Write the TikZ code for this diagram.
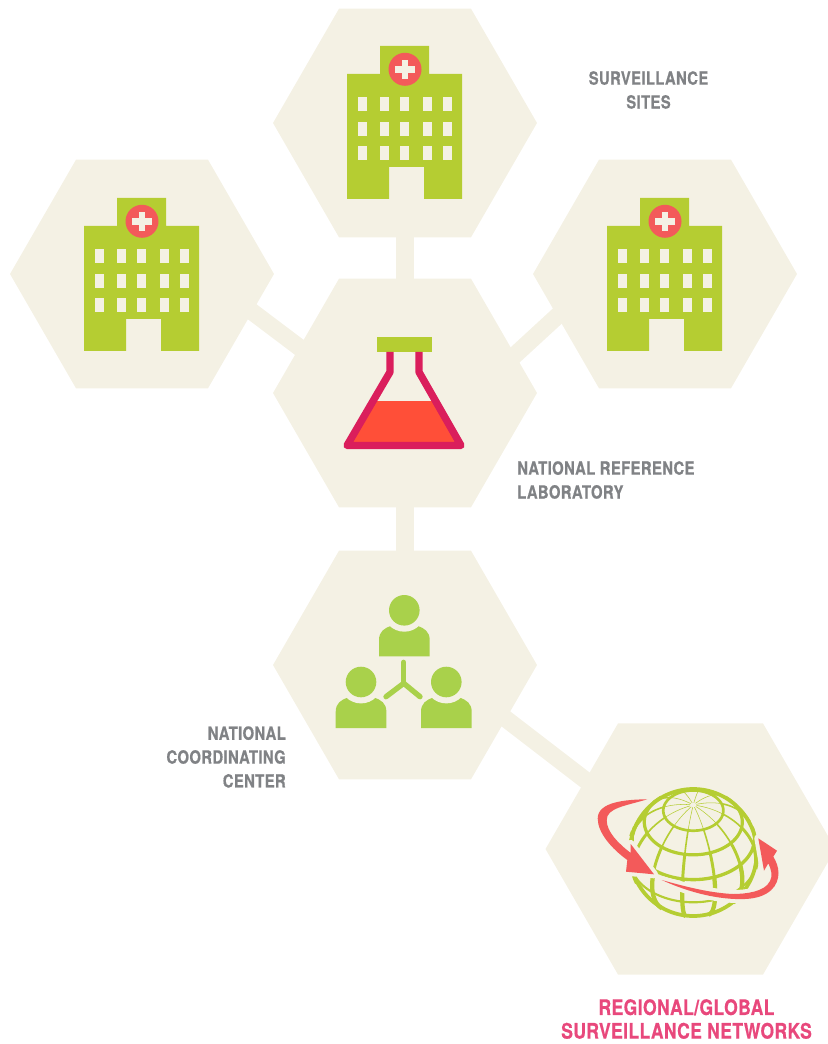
\documentclass[tikz,border=0pt]{standalone}
\usepackage{fontspec}
\usetikzlibrary{shapes.geometric}
\newfontfamily\lblfont[FakeStretch=0.82,LetterSpace=2,BoldFeatures={FakeBold=0.6}]{TeX Gyre Heros}
\definecolor{hexcream}{RGB}{244,241,228}
\definecolor{hospgreen}{RGB}{181,205,50}
\definecolor{persongreen}{RGB}{169,209,75}
\definecolor{redmark}{RGB}{243,90,90}
\definecolor{flaskline}{RGB}{218,30,92}
\definecolor{liquid}{RGB}{255,79,56}
\definecolor{lblgray}{RGB}{128,130,133}
\definecolor{lblpink}{RGB}{232,72,124}
\tikzset{
  hexa/.style={regular polygon,regular polygon sides=6,fill=hexcream,draw=none,inner sep=0pt,minimum size=198pt},
  linkbar/.style={draw=hexcream,line width=12.9pt},
  lbl/.style={font=\lblfont\bfseries\fontsize{13.6}{17.9}\selectfont,inner sep=0pt},
  lblbig/.style={font=\lblfont\bfseries\fontsize{16}{17.7}\selectfont,inner sep=0pt},
  hospital/.pic={
    \fill[hospgreen] (-58,-49)--(-25,-49)--(-25,-77)--(24,-77)--(24,-49)--(57,-49)--(57,76)--(19,76)--(19,44)--(-16,44)--(-16,76)--(-58,76)--cycle;
    \fill[redmark] (0,-53.7) circle (16.5);
    \fill[hexcream] (-9.7,-57) rectangle (9.7,-50);
    \fill[hexcream] (-3.3,-63) rectangle (3,-44);
    \foreach \cx in {-47,-25,-5,18,38}
      \foreach \cy in {-26,-1,23}
        \fill[hexcream] (\cx,\cy) rectangle ++(9,14);
  },
  person/.pic={
    \fill[persongreen] (-25.3,46)--(-25.3,30) .. controls (-25.3,21) and (-20,18) .. (-13,15.4)--(13,15.4) .. controls (20,18) and (25.4,21) .. (25.4,30)--(25.4,46)--cycle;
    \fill[hexcream] (0,0) circle (21.4);
    \fill[persongreen] (0,0) circle (15.3);
  }
}
\begin{document}
\begin{tikzpicture}[x=0.75pt,y=-0.75pt]
\useasboundingbox (0,0) rectangle (827,1044);
% hexagons
\node[hexa] (top) at (405,123) {};
\node[hexa] (left) at (142,274) {};
\node[hexa] (right) at (665,274) {};
\node[hexa] (lab) at (405,393) {};
\node[hexa] (coord) at (405,665) {};
\node[hexa,minimum size=217.5pt] (net) at (690.5,849) {};
% connectors
\draw[linkbar] (top.center) -- (lab.center);
\draw[linkbar] (lab.center) -- (coord.center);
\draw[linkbar] ([shift={(88,21)}]left.center) -- ([shift={(-85,-30)}]lab.center);
\draw[linkbar] ([shift={(-75,12)}]right.center) -- ([shift={(85,-15)}]lab.center);
\draw[linkbar] ([shift={(75,34)}]coord.center) -- ([shift={(-80.5,-50)}]net.center);
% hospitals
\pic at (405,123) {hospital};
\pic at (142,275) {hospital};
\pic at (665,275) {hospital};
% flask
\fill[hospgreen] (377,337) rectangle (432,352);
\fill[liquid] (374,401)--(435,401)--(461,445.5)--(347,445.5)--cycle;
\draw[flaskline,line width=5.5pt,line join=round] (390,352)--(390,372)--(347,445.5)--(461,445.5)--(419,372)--(419,352);
% people
\pic at (404.3,610.3) {person};
\pic at (361,682) {person};
\pic at (446.3,682) {person};
\draw[persongreen,line width=4pt,line cap=round] (403.7,662.3)--(403.7,683.3);
\draw[persongreen,line width=4pt,line cap=round,line join=round] (386,696.7)--(403.7,683.3)--(420,696.7);
% globe
\begin{scope}[shift={(693.3,852.5)},hospgreen]
  \draw[line width=2.8pt] (0,0) circle (63.5);
  \foreach \lat/\w/\lim in {62/2.0/180,40/2.4/139,17/2.5/106,-9/1.6/82}
    \draw[line width=\w pt,line cap=round] plot[domain=-\lim:\lim,samples=60,smooth] ({64*cos(\lat)*sin(\x)},{-64*(sin(\lat)*0.742-cos(\lat)*cos(\x)*0.67)});
  \foreach \lon in {-10,20,50,80,110,140,170,200,230,260,290,320}{
    \pgfmathsetmacro{\fmin}{atan(-cos(\lon)/0.903)}
    \foreach \a/\b/\w in {87/62/0.4,62/40/1.2,40/17/2.2,17/-60/3.2}{
      \pgfmathsetmacro{\lo}{max(\b,\fmin)}
      \pgfmathparse{\lo<\a ? 1 : 0}
      \ifnum\pgfmathresult=1
        \draw[line width=\w pt] plot[domain=\lo:\a,samples=14,smooth] ({64*cos(\x)*sin(\lon)},{-64*(sin(\x)*0.742-cos(\x)*cos(\lon)*0.67)});
      \fi
    }
  }
\end{scope}
% arrows
\def\arrowone{(647.3,799.3) .. controls (625,799.5) and (597.7,802) .. (597.7,818.5) .. controls (597.7,833) and (612,849) .. (627.3,860) -- (626,871.7) -- (654,874.3) -- (630.7,844) -- (630.7,853) .. controls (618,843) and (606.7,832) .. (606.7,820) .. controls (606.7,808) and (625,806) .. (647.3,799.3) -- cycle}
\def\arrowtwo{(661.7,880) .. controls (690,893) and (720,900) .. (745,899) .. controls (770,898) and (778.5,885) .. (778.5,873) .. controls (778.5,867) and (776,861) .. (773.3,856.7) -- (777,850.7) -- (758.3,838.3) -- (764,870.7) -- (768.3,863.3) .. controls (771,869) and (773,876) .. (770,881) .. controls (765,892) and (745,894) .. (733,894) .. controls (712,893) and (690,888) .. (661.7,880) -- cycle}
\draw[hexcream,line width=6pt,line join=round] \arrowone;
\draw[hexcream,line width=6pt,line join=round] \arrowtwo;
\fill[redmark] \arrowone;
\fill[redmark] \arrowtwo;
% labels
\node[lbl,lblgray,align=center] (sitesl) at (648.5,90) {SURVEILLANCE\\SITES};
\node[lbl,lblgray,align=left,anchor=west] (labl) at (517,480) {NATIONAL REFERENCE\\LABORATORY};
\node[lbl,lblgray,align=right,anchor=east] (coordl) at (286,757) {NATIONAL\\COORDINATING\\CENTER};
\node[lblbig,lblpink,align=center] (netl) at (686.5,1019) {REGIONAL/GLOBAL\\SURVEILLANCE NETWORKS};
\end{tikzpicture}
\end{document}
